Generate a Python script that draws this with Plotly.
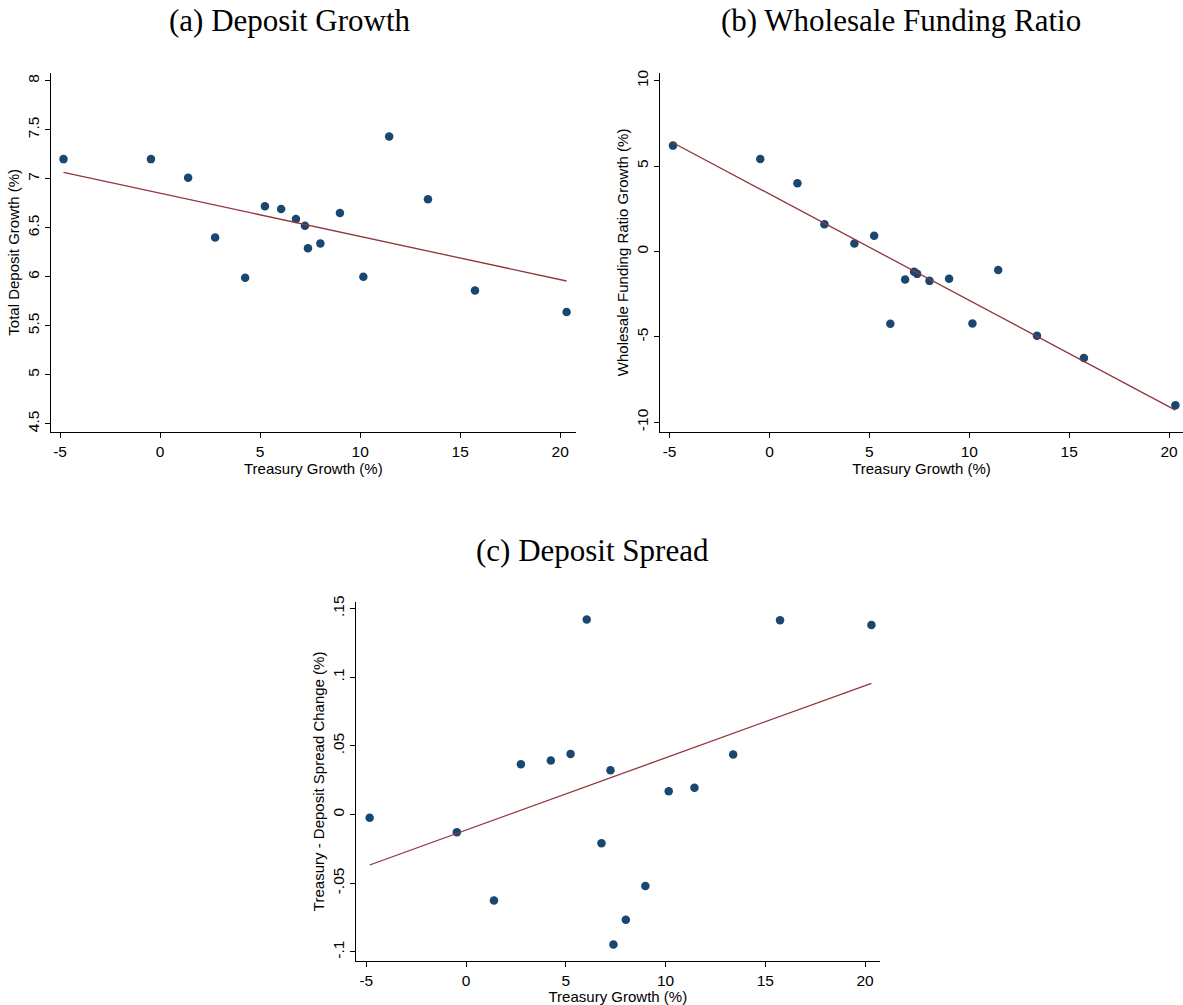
import plotly.graph_objects as go

treasury_growth = [-4.83, -0.46, 1.40, 2.75, 4.25, 5.24, 6.05, 6.79, 7.24, 7.39, 8.01, 8.99, 10.16, 11.45, 13.39, 15.74, 20.32]
deposit_growth = [7.20, 7.20, 7.01, 6.40, 5.99, 6.72, 6.69, 6.59, 6.52, 6.29, 6.34, 6.65, 6.00, 7.43, 6.79, 5.86, 5.64]
wholesale_growth = [6.20, 5.42, 3.99, 1.60, 0.47, 0.92, -4.23, -1.64, -1.19, -1.31, -1.72, -1.60, -4.21, -1.09, -4.93, -6.24, -9.00]
spread_change = [-0.0023, -0.0128, -0.0625, 0.0367, 0.0394, 0.0442, 0.142, -0.0208, 0.0323, -0.0946, -0.0766, -0.052, 0.0170, 0.0196, 0.0438, 0.1415, 0.138]

# fitted-line values at the smallest and largest treasury growth
fit_x = [-4.83, 20.32]
fit_deposit = [7.065, 5.956]
fit_wholesale = [6.37, -9.29]
fit_spread = [-0.0367, 0.0956]

a_yticks = [4.5, 5, 5.5, 6, 6.5, 7, 7.5, 8]
a_ylabels = ["4.5", "5", "5.5", "6", "6.5", "7", "7.5", "8"]
b_yticks = [-10, -5, 0, 5, 10]
b_ylabels = ["-10", "-5", "0", "5", "10"]
c_yticks = [-0.1, -0.05, 0, 0.05, 0.1, 0.15]
c_ylabels = ["-.1", "-.05", "0", ".05", ".1", ".15"]
xticks = [-5, 0, 5, 10, 15, 20]
xlabels = ["-5", "0", "5", "10", "15", "20"]

W, H = 1183, 1005
NAVY = "#1a476f"
MAROON = "#90353b"
TICKFONT = dict(family="Liberation Sans, Arial, sans-serif", size=15.5, color="black")
AXFONT = dict(family="Liberation Sans, Arial, sans-serif", size=15, color="black")

fig = go.Figure()

panels = [
    ("x", "y", deposit_growth, fit_deposit),
    ("x2", "y2", wholesale_growth, fit_wholesale),
    ("x3", "y3", spread_change, fit_spread),
]
for xa, ya, yv, fv in panels:
    fig.add_trace(go.Scatter(x=treasury_growth, y=yv, mode="markers", xaxis=xa, yaxis=ya,
                             marker=dict(color=NAVY, size=8.5, line=dict(width=0)), showlegend=False,
                             cliponaxis=False))
    fig.add_trace(go.Scatter(x=fit_x, y=fv, mode="lines", xaxis=xa, yaxis=ya,
                             line=dict(color=MAROON, width=1.3), showlegend=False))

def px_x(p):
    return p / W

def px_y(p):
    return 1 - p / H

common_x = dict(showgrid=False, zeroline=False, showline=True, linecolor="black", linewidth=1,
                ticks="outside", ticklen=5, tickcolor="black", tickfont=TICKFONT,
                tickvals=xticks, ticktext=xlabels, automargin=False,
                title=dict(text="Treasury Growth (%)", font=AXFONT, standoff=0))
common_y = dict(showgrid=False, zeroline=False, showline=True, linecolor="black", linewidth=1,
                ticks="outside", ticklen=5, tickcolor="black", tickfont=TICKFONT, tickangle=-90,
                automargin=False)

fig.update_layout(
    width=W, height=H, margin=dict(l=0, r=0, t=0, b=0, autoexpand=False),
    plot_bgcolor="white", paper_bgcolor="white",
    xaxis=dict(common_x, domain=[px_x(50.7), px_x(576)], range=[-5.47, 20.79], anchor="y"),
    yaxis=dict(common_y, domain=[px_y(432), px_y(72.7)], range=[4.415, 8.082], anchor="x",
               tickvals=a_yticks, ticktext=a_ylabels,
               title=dict(text="Total Deposit Growth (%)", font=AXFONT, standoff=1)),
    xaxis2=dict(common_x, domain=[px_x(660), px_x(1183)], range=[-5.48, 20.7], anchor="y2"),
    yaxis2=dict(common_y, domain=[px_y(432), px_y(72.7)], range=[-10.57, 10.47], anchor="x2",
                tickvals=b_yticks, ticktext=b_ylabels,
                title=dict(text="Wholesale Funding Ratio Growth (%)", font=AXFONT, standoff=1)),
    xaxis3=dict(common_x, domain=[px_x(355.7), px_x(880)], range=[-5.53, 20.75], anchor="y3"),
    yaxis3=dict(common_y, domain=[px_y(961), px_y(601.7)], range=[-0.1066, 0.155], anchor="x3",
                tickvals=c_yticks, ticktext=c_ylabels,
                title=dict(text="Treasury - Deposit Spread Change (%)", font=AXFONT, standoff=1)),
)

TFONT = dict(family="Liberation Serif, DejaVu Serif, serif", size=31, color="black")
for txt, cx, cy in [("(a) Deposit Growth", 290, 20), ("(b) Wholesale Funding Ratio", 901, 20),
                    ("(c) Deposit Spread", 592, 550)]:
    fig.add_annotation(text=txt, x=px_x(cx), y=px_y(cy), xref="paper", yref="paper",
                       showarrow=False, font=TFONT, xanchor="center", yanchor="middle", borderpad=0)

fig.write_html("out.html", config={"displayModeBar": False},
               post_script="document.body.style.margin='0';document.body.style.overflow='hidden';")
